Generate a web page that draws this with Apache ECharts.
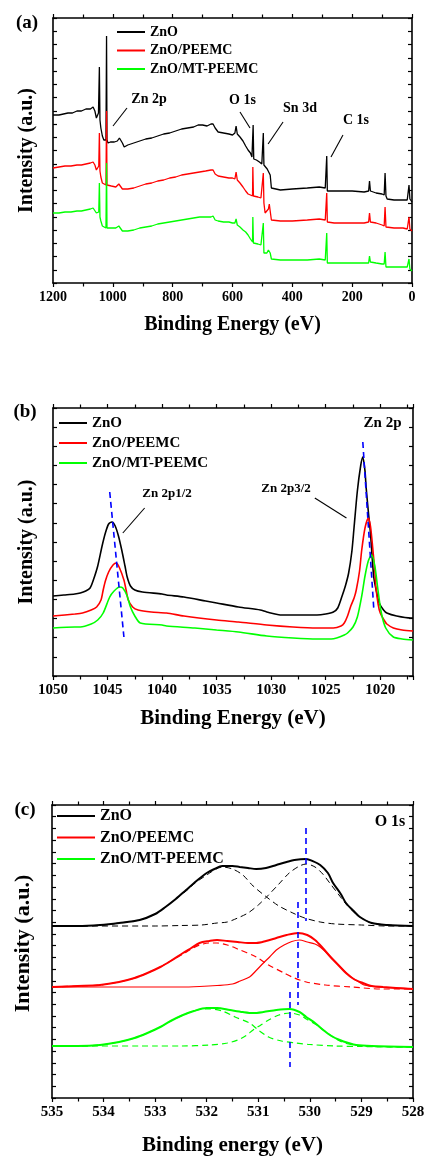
<!DOCTYPE html>
<html>
<head>
<meta charset="utf-8">
<script src="https://cdn.jsdelivr.net/npm/echarts@6/dist/echarts.min.js"></script>
<style>
html,body{margin:0;padding:0;background:#fff;}
#chart{width:428px;height:1160px;}
</style>
</head>
<body>
<div id="chart"></div>
<script>
// ---------------- DATA ----------------
const seriesNames = ['ZnO', 'ZnO/PEEMC', 'ZnO/MT-PEEMC'];

// (a) survey spectra: [binding energy (eV), intensity (a.u.)]
const surveyZnO = [[1200,168],[1197,166],[1194,167],[1180,168],[1165,169],[1150,170],[1135,170],[1120,172],[1105,172],[1090,174],[1075,174],[1066,176],[1060,172],[1055,165],[1048,170],[1045,216],[1043,163],[1040,155],[1035,147],[1030,143],[1023,143],[1021,247],[1019.5,143],[1016,140],[1008,141],[995,141],[985,142],[978,145],[975,145],[968,140],[962,136],[950,138],[930,140],[910,142],[890,144],[870,145],[850,147],[830,149],[810,150],[790,152],[770,154],[750,155],[730,156],[715,158],[700,158],[685,157],[672,159],[665,159],[658,155],[648,151],[630,150],[612,149],[600,148],[592,150],[588,157],[584,149],[575,146],[565,142],[556,137],[548,133],[540,130],[535,126],[532,126],[531,158],[529,124],[520,123],[510,121],[502,119],[499,118],[497,150],[495,118],[490,117],[484,114],[478,113],[474,108],[470,95],[466,93],[440,93],[400,94],[350,95],[310,96],[290,95],[286,93],[285,127],[283,92],[260,92],[200,92],[160,91],[145,92],[142,102],[139,92],[120,90],[100,89],[93,88],[90,110],[87,87],[83,84],[60,83],[30,83],[16,83],[12,85],[10,98],[7,84],[3,82],[0,81]];
const surveyPEEMC = [[1200,115],[1197,113],[1194,115],[1180,116],[1160,117],[1140,117],[1120,118],[1105,118],[1090,119],[1075,120],[1066,121],[1060,118],[1055,113],[1047,117],[1045,150],[1043,112],[1040,106],[1035,100],[1030,98],[1023,98],[1021,172],[1019.5,98],[1016,97],[1005,97],[990,96],[980,99],[975,99],[968,94],[963,93],[950,94],[930,95],[910,97],[890,99],[870,100],[850,102],[830,103],[810,105],[790,106],[770,108],[750,109],[730,110],[710,111],[690,112],[672,113],[665,113],[658,109],[648,107],[630,106],[612,105],[600,105],[592,104],[588,111],[584,103],[575,100],[565,96],[556,92],[548,89],[540,88],[533,87],[532,116],[530,87],[525,86],[515,86],[505,85],[499,84],[497,110],[495,80],[491,70],[485,70],[480,74],[477,79],[474,72],[470,63],[466,62],[440,62],[400,62],[350,63],[310,64],[290,63],[286,62],[285,90],[283,61],[260,60],[200,60],[160,60],[145,61],[142,70],[139,61],[120,60],[100,58],[93,57],[90,76],[87,56],[83,55],[60,55],[30,55],[16,54],[12,56],[10,66],[7,54],[3,52],[0,52]];
const surveyMT = [[1200,70],[1197,68],[1194,70],[1180,70],[1160,71],[1140,71],[1120,72],[1105,72],[1090,73],[1075,74],[1066,75],[1060,73],[1055,70],[1047,71],[1045,100],[1043,66],[1040,62],[1035,57],[1030,55],[1023,55],[1021,120],[1019.5,55],[1016,55],[1005,55],[990,55],[980,57],[975,56],[968,52],[963,51],[950,52],[930,53],[910,55],[890,56],[870,57],[850,59],[830,60],[810,61],[790,62],[770,63],[750,64],[730,65],[710,66],[690,66],[672,66],[665,67],[658,63],[648,62],[630,61],[612,61],[600,60],[592,60],[588,64],[584,58],[575,56],[565,53],[556,51],[548,48],[540,44],[533,41],[532,66],[530,40],[525,40],[515,39],[505,38],[499,38],[497,60],[495,30],[491,28],[485,30],[480,33],[477,35],[474,30],[470,24],[466,23],[440,23],[400,23],[350,23],[310,24],[290,23],[286,22],[285,50],[283,20],[260,20],[200,20],[160,20],[145,20],[142,27],[139,21],[120,20],[100,19],[93,19],[90,31],[87,16],[83,16],[60,16],[30,16],[16,16],[12,16],[10,24],[7,14],[3,13],[0,12]];

// (b) Zn 2p spectra
const zn2pZnO = [[1050,80],[1049,81],[1048,82],[1047.5,83],[1047,85],[1046.6,88],[1046.3,96],[1045.9,110],[1045.5,130],[1045.2,143],[1044.9,152],[1044.6,154],[1044.3,150],[1044.0,140],[1043.7,126],[1043.4,110],[1043.2,99],[1042.9,90],[1042.5,86],[1041.8,84],[1040,82],[1039.6,81],[1038,79],[1036,75],[1035,73],[1033,69],[1031,66],[1030.4,64],[1029,61],[1027,61],[1025.8,61],[1025,62],[1024.3,64],[1023.9,68],[1023.5,80],[1023.2,90],[1022.9,103],[1022.6,125],[1022.4,149],[1022.1,185],[1021.8,210],[1021.6,219],[1021.4,205],[1021.3,189],[1021.1,165],[1020.9,143],[1020.6,99],[1020.3,82],[1020.1,73],[1019.7,66],[1019.4,63],[1018.5,60],[1017.2,58],[1017,58]];
const zn2pPEEMC = [[1050,60],[1048,62],[1047.3,63],[1046.5,66],[1046,69],[1045.6,76],[1045.4,86],[1045.2,95],[1044.9,104],[1044.5,111],[1044.2,113],[1043.9,108],[1043.5,96],[1043.3,86],[1043.1,76],[1042.7,69],[1042.2,66],[1041,64],[1039.6,63],[1038,60],[1035,56],[1033,54],[1030.4,51],[1028,49],[1025.8,48],[1024.3,48],[1023.6,50],[1023.3,53],[1023.0,60],[1022.7,70],[1022.4,78],[1022.2,86],[1021.9,105],[1021.7,126],[1021.4,148],[1021.1,158],[1020.9,150],[1020.7,129],[1020.5,105],[1020.4,89],[1020.2,72],[1020,63],[1019.6,55],[1019.4,52],[1018.8,48],[1018,46],[1017,45]];
const zn2pMT = [[1050,48],[1048,49],[1047.5,49],[1046.5,52],[1045.9,56],[1045.4,63],[1044.8,79],[1044.4,85],[1043.9,89],[1043.6,88],[1043.2,80],[1042.9,69],[1042.5,60],[1042,53],[1040,51],[1039.6,50],[1037,48],[1035,46],[1033,44],[1030.4,40],[1028,38],[1025.8,37],[1024.5,37],[1024,38],[1023.3,41],[1023,43],[1022.5,49],[1022.1,59],[1021.7,80],[1021.4,100],[1021.1,115],[1020.8,121],[1020.5,110],[1020.2,85],[1019.9,63],[1019.5,48],[1018.8,39],[1018,37],[1017,36]];

// (c) O 1s spectra: totals and fitted components
const o1sZnO = [[535,172],[534.5,172],[534.07,173],[533.7,175],[533.3,178],[533,184],[532.8,191],[532.6,199],[532.4,208],[532.2,217],[532,225],[531.85,229],[531.7,232],[531.5,232],[531.36,231],[531.2,230],[531.04,229],[530.85,230],[530.65,233],[530.45,236],[530.3,238],[530.07,239],[529.95,237],[529.8,233],[529.65,225],[529.55,215],[529.4,204],[529.3,195],[529.15,187],[529.03,181],[528.8,175],[528.5,173],[528,172]];
const o1sZnOfit1 = [[535,172],[534.5,172],[534,173],[533.7,175],[533.3,178],[533,184],[532.8,191],[532.6,199],[532.4,207],[532.2,216],[532,223],[531.85,228],[531.7,231],[531.5,229],[531.3,223],[531.1,212],[530.84,201],[530.6,192],[530.33,185],[530.1,180],[529.8,176],[529.5,174],[529,173],[528.5,172],[528,172]];
const o1sZnOfit2 = [[535,172],[533,172],[532.5,172.5],[532.1,173],[531.8,175],[531.6,176],[531.4,180],[531.2,185],[531.0,193],[530.84,201],[530.6,214],[530.4,225],[530.2,232],[530.07,234],[529.9,231],[529.75,224],[529.6,214],[529.45,204],[529.3,194],[529.15,186],[529,180],[528.8,175],[528.5,173],[528,172]];
const o1sPEEMC = [[535,111],[534.5,112],[534.07,113],[533.7,116],[533.4,120],[533.15,125],[532.9,131],[532.7,137],[532.46,145],[532.3,150],[532.14,155],[531.95,157],[531.8,158],[531.6,157],[531.4,156],[531.2,155],[531.04,155],[530.85,157],[530.65,160],[530.45,163],[530.23,165],[530.05,163],[529.9,158],[529.75,150],[529.6,141],[529.45,133],[529.3,125],[529.15,119],[528.97,115],[528.8,112],[528.58,111],[528,109]];
const o1sPEEMCfit1 = [[535,111],[534.5,112],[534.07,113],[533.7,116],[533.4,120],[533.15,125],[532.9,131],[532.7,137],[532.46,144],[532.3,149],[532.14,153],[531.95,155],[531.8,155],[531.6,153],[531.4,149],[531.04,141],[530.8,133],[530.5,125],[530.3,120],[530.07,116],[529.7,113],[529.2,111],[528.6,109],[528,109]];
const o1sPEEMCfit2 = [[535,111],[534,111],[533,111],[532.5,111],[532.14,111.5],[531.8,112.5],[531.5,114],[531.35,117],[531.17,121],[531.05,127],[530.9,135],[530.78,141],[530.65,148],[530.5,153],[530.35,156.5],[530.2,158],[530.05,156],[529.9,154],[529.8,151],[529.65,144],[529.5,136],[529.35,128],[529.2,121],[529.05,116],[528.95,113],[528.7,111],[528.3,110],[528,109]];
const o1sMT = [[535,52],[534.5,52],[534.07,53],[533.7,56],[533.4,60],[533.15,65],[532.9,71],[532.7,77],[532.46,83],[532.25,87],[532,90],[531.8,90],[531.55,88],[531.3,86],[531.1,85],[530.9,86],[530.65,88],[530.39,89],[530.2,86],[530.07,81],[529.9,75],[529.74,68],[529.58,62],[529.42,58],[529.25,55],[529.1,53],[528.8,52],[528,51]];
const o1sMTfit1 = [[535,52],[534.5,52],[534.07,53],[533.7,56],[533.4,60],[533.15,65],[532.9,71],[532.7,77],[532.46,83],[532.25,87],[532.05,89],[531.94,89],[531.7,87],[531.45,81],[531.17,75],[531,68],[530.8,61],[530.55,57],[530.26,55],[530,53.5],[529.5,52],[529,51.5],[528,51]];
const o1sMTfit2 = [[535,52],[533,52],[532.5,52],[531.94,53],[531.6,55],[531.4,58],[531.25,62],[531.1,68],[530.95,73],[530.8,78],[530.6,83],[530.39,85],[530.2,83],[530.07,79],[529.9,74],[529.74,68],[529.58,62],[529.42,57],[529.25,54],[529.1,52.5],[528.8,51.5],[528,51]];

// annotation arrows [fromE, fromI, toE, toI]
const arrowsA = [[952.7,175,999.4,157],[575,171,541.5,155],[431,161,481,139],[230.7,148,270.8,126]];
const arrowsB = [[1041.6,168,1043.6,143],[1026.0,178,1023.1,158]];
// blue guide lines [E1, I1, E2, I2]
const guidesB = [[1044.8,184,1043.5,39],[1021.6,234,1020.6,68]];
const guidesC = [[530.07,270,530.07,177],[530.23,196,530.23,93],[530.39,106,530.39,31]];

// ---------------- STYLE ----------------
const FONT = '"Liberation Serif", "Times New Roman", serif';
const COLORS = ['#000000', '#ff0000', '#00ff00'];
const BLUE = '#0000ff';

const grids = [
  {left:53, top:18, width:359, height:265},
  {left:53, top:408, width:360, height:268},
  {left:52, top:805, width:361, height:293}
];

function xAxisCfg(g, min, max, interval, pos, fs, name, gap) {
  const c = {
    type:'value', gridIndex:g, min:min, max:max, inverse:true, position:pos,
    axisLine:{show:true, onZero:false, lineStyle:{color:'#000', width:1.6}},
    axisTick:{show:true, inside:false, length:4, lineStyle:{color:'#000', width:1.2}},
    minorTick:{show:true, splitNumber:2, length:3.5, lineStyle:{color:'#000', width:1.2}},
    splitLine:{show:false}, minorSplitLine:{show:false},
    axisLabel:{show:pos==='bottom', margin:7, color:'#000', fontFamily:FONT, fontWeight:'bold', fontSize:fs,
      showMinLabel: interval != null, formatter: function(v){ return (interval==null && v % 5 !== 0) ? '' : String(v); }},
    name: pos==='bottom' ? name : '', nameLocation:'middle', nameGap:gap,
    nameTextStyle:{color:'#000', fontFamily:FONT, fontWeight:'bold', fontSize:fs+6}
  };
  if (interval != null) c.interval = interval;
  return c;
}
function yAxisCfg(g, max, interval, pos, fs, gap, shift) {
  return {
    type:'value', gridIndex:g, min:0, max:max, interval:interval, position:pos,
    axisLine:{show:true, onZero:false, lineStyle:{color:'#000', width:1.6}},
    axisTick:{show:true, inside:true, length:4, lineStyle:{color:'#000', width:1.2}},
    axisLabel:{show:false}, splitLine:{show:false},
    name: pos==='left' ? 'Intensity (a.u.)' : '', nameLocation:'middle', nameGap:gap, nameRotate:90,
    nameTextStyle:{color:'#000', fontFamily:FONT, fontWeight:'bold', fontSize:fs,
      padding: shift ? [0, 0, 0, shift] : 0}
  };
}

const xAxes = [
  xAxisCfg(0, 0, 1200, 200, 'bottom', 14, 'Binding Energy (eV)', 32),
  xAxisCfg(0, 0, 1200, 200, 'top', 14, '', 0),
  xAxisCfg(1, 1017, 1050, null, 'bottom', 15, 'Binding Energy (eV)', 32),
  xAxisCfg(1, 1017, 1050, null, 'top', 15, '', 0),
  xAxisCfg(2, 528, 535, 1, 'bottom', 15, 'Binding energy (eV)', 37),
  xAxisCfg(2, 528, 535, 1, 'top', 15, '', 0)
];
const yAxes = [
  yAxisCfg(0, 265, 13.25, 'left', 20, 16),
  yAxisCfg(0, 265, 13.25, 'right', 20, 0),
  yAxisCfg(1, 268, 268/14, 'left', 20, 16),
  yAxisCfg(1, 268, 268/14, 'right', 20, 0),
  yAxisCfg(2, 293, 293/25, 'left', 22, 18, 16),
  yAxisCfg(2, 293, 293/25, 'right', 22, 0)
];

function line(name, data, g, color, width, dashed, smooth) {
  return {
    type:'line', name:name, data:data, xAxisIndex:2*g, yAxisIndex:2*g,
    symbol:'none', showSymbol:false, smooth: smooth || false, silent:true, animation:false,
    lineStyle:{color:color, width:width, type: dashed ? [6,4] : 'solid'},
    itemStyle:{color:color}
  };
}
function arrowMark(list) {
  return {
    silent:true, animation:false, symbol:['none','arrow'], symbolSize:[0,8],
    label:{show:false}, emphasis:{disabled:true},
    lineStyle:{color:'#000', width:1.1, type:'solid'},
    data: list.map(a => [{coord:[a[0],a[1]]},{coord:[a[2],a[3]]}])
  };
}
function guideMark(list) {
  return {
    silent:true, animation:false, symbol:['none','none'],
    label:{show:false}, emphasis:{disabled:true},
    lineStyle:{color:BLUE, width:1.6, type:[6,4]},
    data: list.map(a => [{coord:[a[0],a[1]]},{coord:[a[2],a[3]]}])
  };
}

const series = [];
// (a)
const sA = [surveyZnO, surveyPEEMC, surveyMT];
sA.forEach((d,i) => series.push(line(seriesNames[i], d, 0, COLORS[i], 1.3, false)));
series.push({type:'line', name:'arrowsA', data:[], xAxisIndex:0, yAxisIndex:0, markLine:arrowMark(arrowsA)});
// (b)
const sB = [zn2pZnO, zn2pPEEMC, zn2pMT];
sB.forEach((d,i) => series.push(line(seriesNames[i], d, 1, COLORS[i], 1.6, false, 0.25)));
series.push({type:'line', name:'arrowsB', data:[], xAxisIndex:2, yAxisIndex:2, markLine:arrowMark(arrowsB)});
series.push({type:'line', name:'guidesB', data:[], xAxisIndex:2, yAxisIndex:2, z:5, markLine:guideMark(guidesB)});
// (c)
series.push(line('ZnO fit 1', o1sZnOfit1, 2, COLORS[0], 1, true, 0.3));
series.push(line('ZnO fit 2', o1sZnOfit2, 2, COLORS[0], 1, true, 0.3));
series.push(line('ZnO/PEEMC fit 1', o1sPEEMCfit1, 2, COLORS[1], 1.2, true, 0.3));
series.push(line('ZnO/PEEMC fit 2', o1sPEEMCfit2, 2, COLORS[1], 1.2, false, 0.3));
series.push(line('ZnO/MT-PEEMC fit 1', o1sMTfit1, 2, COLORS[2], 1.2, true, 0.3));
series.push(line('ZnO/MT-PEEMC fit 2', o1sMTfit2, 2, COLORS[2], 1.2, true, 0.3));
const sC = [o1sZnO, o1sPEEMC, o1sMT];
sC.forEach((d,i) => series.push(line(seriesNames[i], d, 2, COLORS[i], 2, false, 0.3)));
series.push({type:'line', name:'guidesC', data:[], xAxisIndex:4, yAxisIndex:4, z:5, markLine:guideMark(guidesC)});

function legendCfg(left, top, iw, gap, fs) {
  return {
    orient:'vertical', left:left, top:top, padding:0, itemWidth:iw, itemHeight:2, itemGap:gap,
    icon:'rect', data:seriesNames, selectedMode:false,
    textStyle:{color:'#000', fontFamily:FONT, fontWeight:'bold', fontSize:fs}
  };
}

function txt(s, x, y, fs) {
  return {type:'text', x:x, y:y, silent:true,
    style:{text:s, fill:'#000', font:'bold ' + fs + 'px ' + FONT, align:'center', verticalAlign:'middle',
      textAlign:'center', textVerticalAlign:'middle'}};
}

const option = {
  backgroundColor:'#fff',
  animation:false,
  grid: grids,
  xAxis: xAxes,
  yAxis: yAxes,
  legend: [
    legendCfg(117, 25, 28, 4.5, 14),
    legendCfg(59, 415.5, 28, 5, 15),
    legendCfg(57, 808, 38, 5.5, 16)
  ],
  graphic: [
    txt('(a)', 27, 23, 19), txt('(b)', 25, 412, 19), txt('(c)', 25, 810, 19),
    txt('Zn 2p', 149, 99, 14), txt('O 1s', 242.5, 100, 14), txt('Sn 3d', 300, 108, 14), txt('C 1s', 356, 120, 14),
    txt('Zn 2p1/2', 167, 494, 13), txt('Zn 2p3/2', 286, 489, 13), txt('Zn 2p', 382.5, 423, 15),
    txt('O 1s', 390, 822, 16)
  ],
  series: series
};

const chart = echarts.init(document.getElementById('chart'), null, {renderer:'canvas'});
chart.setOption(option);
</script>
</body>
</html>
